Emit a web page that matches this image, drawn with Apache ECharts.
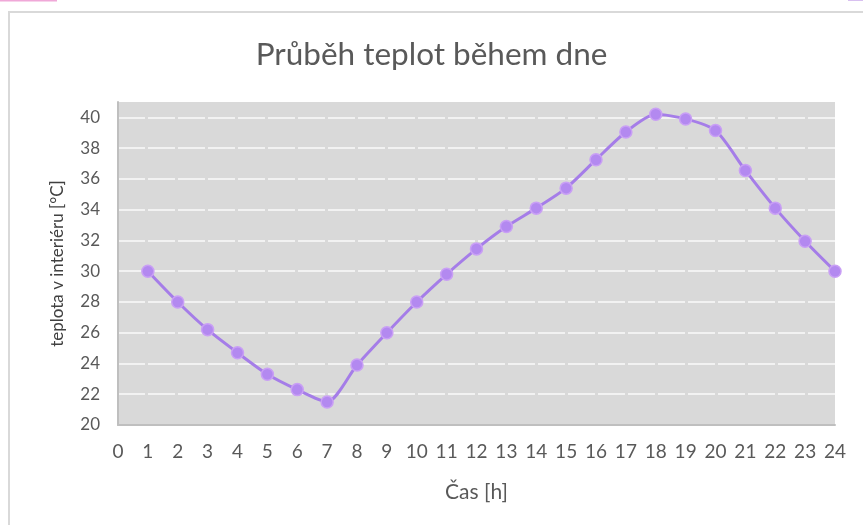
<!DOCTYPE html>
<html>
<head>
<meta charset="utf-8">
<script src="https://cdn.jsdelivr.net/npm/echarts@6/dist/echarts.min.js"></script>
<style>
html,body{margin:0;padding:0;background:#fff;}
#chart{width:863px;height:525px;}
</style>
</head>
<body>
<div id="chart"></div>
<script>
var hours = [1,2,3,4,5,6,7,8,9,10,11,12,13,14,15,16,17,18,19,20,21,22,23,24];
var temps = [30,28,26.2,24.7,23.3,22.3,21.5,23.9,26,28,29.8,31.45,32.9,34.1,35.4,37.25,39.05,40.2,39.9,39.15,36.55,34.1,31.95,30];
var yTicks = [20,22,24,26,28,30,32,34,36,38,40];
var xTicks = [0,1,2,3,4,5,6,7,8,9,10,11,12,13,14,15,16,17,18,19,20,21,22,23,24];

var data = hours.map(function(h,i){return [h,temps[i]];});
var font = 'Lato, "Liberation Sans", sans-serif';
var splitColors = yTicks.map(function(v,i){return i===0?'rgba(0,0,0,0)':'#f2f2f2';});
splitColors.push('rgba(0,0,0,0)');

var chart = echarts.init(document.getElementById('chart'));
chart.setOption({
  backgroundColor:'#fff',
  animation:false,
  title:{
    text:'Průběh teplot během dne',
    left:'center', top:34,
    textStyle:{fontFamily:font,fontSize:31.5,fontWeight:'normal',color:'#595959'}
  },
  graphic:[
    {type:'rect',shape:{x:9,y:12,width:870,height:530},style:{fill:'none',stroke:'#d9d9d9',lineWidth:2},z:-1},
    {type:'rect',shape:{x:0,y:0,width:57,height:1.5},style:{fill:'#f0a8d8'}},
    {type:'rect',shape:{x:848,y:0,width:15,height:1},style:{fill:'#d8c0f0'}}
  ],
  grid:{left:118,right:28,top:102,bottom:100,show:true,backgroundColor:'#d9d9d9',borderWidth:0},
  xAxis:{
    type:'value',min:0,max:24,interval:1,
    name:'Čas [h]',nameLocation:'middle',nameGap:57,
    nameTextStyle:{fontFamily:font,fontSize:21,color:'#595959'},
    axisLine:{show:true,onZero:false,lineStyle:{color:'#bfbfbf',width:2}},
    axisTick:{show:false},
    splitLine:{show:false},
    axisLabel:{fontFamily:font,fontSize:19,color:'#595959',margin:17,
      formatter:function(v){return xTicks.indexOf(v)>=0?String(v):'';}}
  },
  yAxis:{
    type:'value',min:20,max:41,interval:2,
    name:'teplota v interiéru [°C]',nameLocation:'middle',nameGap:52,
    nameTextStyle:{fontFamily:font,fontSize:17,color:'#404040'},
    axisLine:{show:true,lineStyle:{color:'#bfbfbf',width:2}},
    axisTick:{show:false},
    axisLabel:{fontFamily:font,fontSize:17,color:'#595959',margin:18,showMaxLabel:false,
      formatter:function(v){return yTicks.indexOf(v)>=0?String(v):'';}},
    splitLine:{show:true,lineStyle:{color:splitColors,width:2,type:[27,3]}}
  },
  series:[{
    type:'line',data:data,smooth:0.25,
    symbol:'circle',symbolSize:12,
    lineStyle:{color:'#a57de8',width:3},
    itemStyle:{color:'#b389f0',borderColor:'#c99ff5',borderWidth:1.5}
  }]
});
</script>
</body>
</html>
